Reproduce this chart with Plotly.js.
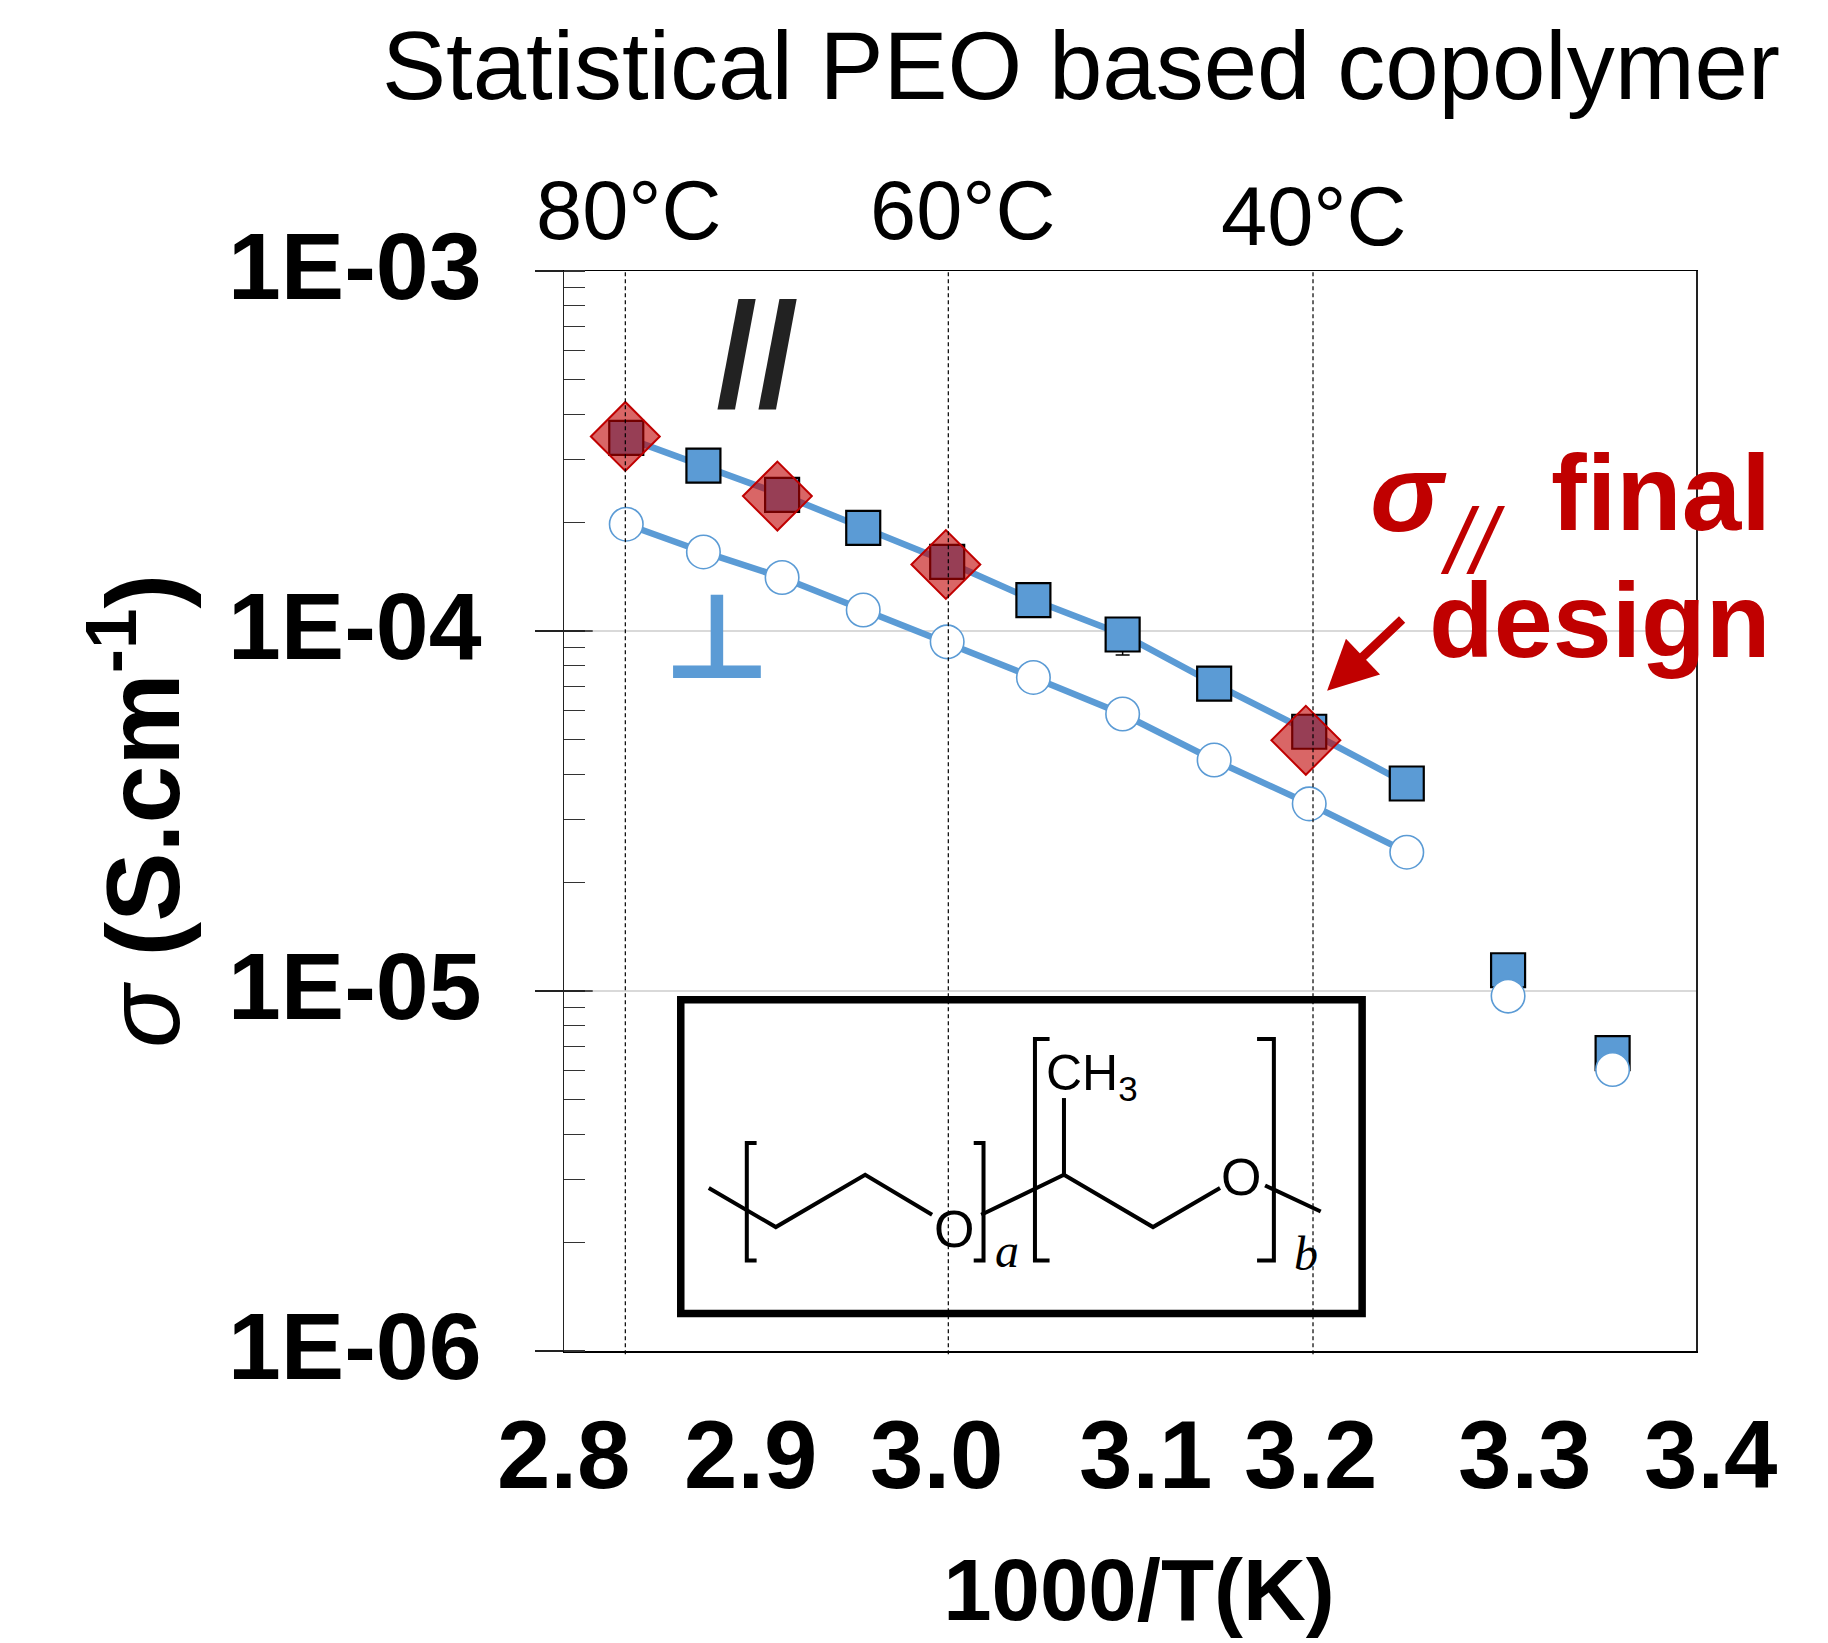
<!DOCTYPE html>
<html><head><meta charset="utf-8">
<script src="https://cdn.plot.ly/plotly-3.0.0.min.js"></script>
<style>html,body{margin:0;padding:0;background:#fff}</style></head>
<body><div id="chart" style="width:1828px;height:1643px"></div>
<script>
// ---- data ----
const inverseT      = [2.8330,2.8739,2.9156,2.9586,3.0031,3.0488,3.0961,3.1446,3.1950,3.2467,3.3004,3.3558];
const sigmaParallel = [3.44e-4,2.88e-4,2.39e-4,1.935e-4,1.557e-4,1.219e-4,9.78e-5,7.14e-5,5.25e-5,3.77e-5,1.142e-5,6.72e-6];
const sigmaPerp     = [1.98e-4,1.658e-4,1.408e-4,1.144e-4,9.33e-5,7.43e-5,5.88e-5,4.38e-5,3.31e-5,2.43e-5,9.68e-6,6.05e-6];
const parallelErrUp = [0,0,0,0,0,0,0,0,0,0,0,0];
const parallelErrDn = [0,0,0,0,0,0,1.2e-5,0,0,0,0,0];
const finalT        = [2.8325,2.9131,3.0024,3.1932];
const sigmaFinal    = [3.47e-4,2.37e-4,1.53e-4,4.97e-5];
const tempLineX     = [2.8325,3.0037,3.197];
const yTickVals     = [1e-6,1e-5,1e-4,1e-3];
const yTickText     = ['1E-06','1E-05','1E-04','1E-03'];
const xLabels       = ['2.8','2.9','3.0','3.1','3.2','3.3','3.4'];
const tempLabels    = ['80°C','60°C','40°C'];

// ---- page geometry ----
const W=1828,H=1643,L=564.3,R=1695.7,T=271.4,B=1351.2;
const fx=p=>(p-L)/(R-L), fy=p=>(B-p)/(B-T);
const BLUE='#5B9BD5',RED='#C00000',SANS='"Liberation Sans",Arial,sans-serif',SERIF='"Liberation Serif",serif';
const xLabelPx=[564,751,937,1145,1310,1524,1710];
const tempLabelPx=[629,963,1313.5], tempLabelBase=[239.5,239.5,246];

function txt(text,x,base,size,o={}){
  return {text,xref:'paper',yref:'paper',x:fx(x),y:fy(base+0.212*size+1),xanchor:o.xa||'center',yanchor:'bottom',
    showarrow:false,borderpad:0,font:{family:o.family||SANS,size,color:o.color||'#000',weight:o.weight||'normal',style:o.style||'normal'}};
}
const annotations=[
  ...xLabels.map((t,i)=>txt(t,xLabelPx[i],1488,96,{weight:'bold'})),
  ...tempLabels.map((t,i)=>txt(t,tempLabelPx[i],tempLabelBase[i],83)),
  txt('//',757,407,148,{weight:'bold',color:'#222'}),
  txt('⊥',717,681,118,{weight:'bold',color:BLUE,family:'"DejaVu Sans"'}),
  txt('σ',1408,531,110,{weight:'bold',style:'italic',color:RED}),
  txt('//',1473,573,92,{style:'italic',color:RED}),
  txt('final',1772,531,107,{xa:'right',weight:'bold',color:RED}),
  txt('design',1772,657,106,{xa:'right',weight:'bold',color:RED}),
  {xref:'paper',yref:'paper',axref:'pixel',ayref:'pixel',x:fx(1327),y:fy(691),ax:1405-1327,ay:617-691,text:' ',
    showarrow:true,arrowcolor:RED,arrowwidth:9,arrowhead:2,arrowsize:1.1,standoff:0},
  txt('O',953.7,1246.7,52),
  txt('O',1241,1195.5,52),
  txt('CH<sub>3</sub>',1045,1097.7,50,{xa:'left'}),
  txt('a',1007,1267,48,{family:SERIF,style:'italic'}),
  txt('b',1306,1270,48,{family:SERIF,style:'italic'})
];
const poly=(pts,w)=>({type:'path',xref:'paper',yref:'paper',layer:'above',
  path:'M'+pts.map(p=>fx(p[0])+','+fy(p[1])).join('L'),line:{color:'#000',width:w}});
const shapes=[
  ...tempLineX.map(x=>({type:'line',xref:'x',yref:'paper',layer:'above',x0:x,x1:x,y0:-0.003,y1:1,line:{color:'#000',width:1.2,dash:'4px,3px'}})),
  ...[1e-4,1e-5].map(v=>({type:'line',xref:'paper',yref:'y',layer:'above',x0:0,x1:fx(593),y0:v,y1:v,line:{color:'#222',width:1.5}})),
  {type:'rect',xref:'paper',yref:'paper',layer:'above',x0:fx(681),x1:fx(1362),y0:fy(1313.7),y1:fy(1000),line:{color:'#000',width:7.5}},
  poly([[709,1188.3],[776,1227.3],[865.3,1175],[932.2,1215]],4),
  poly([[981.3,1215],[1064,1175],[1153,1227.3],[1220,1188.3]],4),
  poly([[1265,1185.7],[1320.6,1211.7]],4),
  poly([[1064,1098.3],[1064,1175]],4),
  poly([[756.8,1143.3],[747,1143.3],[747,1260.7],[756.8,1260.7]],4),
  poly([[973.8,1143.3],[983.6,1143.3],[983.6,1260.7],[973.8,1260.7]],4),
  poly([[1049.6,1039.3],[1035,1039.3],[1035,1260.7],[1049.6,1260.7]],4),
  poly([[1257,1039.3],[1273.8,1039.3],[1273.8,1260.7],[1257,1260.7]],4)
];
const n=10;
const traces=[
 {x:inverseT.slice(0,n),y:sigmaParallel.slice(0,n),mode:'lines',line:{color:BLUE,width:6.5},showlegend:false},
 {x:inverseT.slice(0,n),y:sigmaPerp.slice(0,n),mode:'lines',line:{color:BLUE,width:6.5},showlegend:false},
 {x:inverseT,y:sigmaParallel,mode:'markers',name:'σ∥',showlegend:false,
  error_y:{type:'data',array:parallelErrUp,arrayminus:parallelErrDn,symmetric:false,color:'#000',thickness:1.5,width:7},
  marker:{symbol:'square',size:34,color:BLUE,line:{color:'#000',width:2.2}}},
 {x:inverseT,y:sigmaPerp,mode:'markers',name:'σ⊥',showlegend:false,
  marker:{symbol:'circle',size:33.5,color:'#fff',line:{color:BLUE,width:1.6}}},
 {x:finalT,y:sigmaFinal,mode:'markers',name:'σ∥ final design',showlegend:false,
  marker:{symbol:'diamond',size:53,color:'rgba(192,0,0,0.6)',line:{color:RED,width:2}}}
];
const layout={
 width:W,height:H,autosize:false,paper_bgcolor:'#fff',plot_bgcolor:'#fff',showlegend:false,
 margin:{l:L,r:W-R,t:T,b:H-B,pad:0},
 title:{text:'Statistical PEO based copolymer',font:{family:SANS,size:96,color:'#000'},xref:'container',yref:'container',x:1081/W,xanchor:'center',y:1-65/H,yanchor:'middle'},
 xaxis:{type:'linear',range:[2.8,3.4],showgrid:false,zeroline:false,showticklabels:false,ticks:'',showline:true,linecolor:'#000',linewidth:1.5,mirror:true,
   title:{text:'<span style="font-size:65px">\u00A0</span>1000/T(K)',font:{family:SANS,size:87,color:'#000',weight:'bold'},standoff:207}},
 yaxis:{type:'log',range:[-6,-3],tickmode:'array',tickvals:yTickVals,ticktext:yTickText,
   tickfont:{family:SANS,size:95,color:'#000',weight:'bold'},ticks:'outside',ticklen:28,tickwidth:1.5,tickcolor:'#222',
   ticklabelstandoff:34,ticklabelshift:-5,showgrid:true,gridcolor:'#D9D9D9',gridwidth:1.5,zeroline:false,
   showline:true,linecolor:'#222',linewidth:1.5,mirror:true,
   minor:{ticks:'inside',ticklen:21,tickwidth:1.2,tickcolor:'#333',dtick:'D1',showgrid:false},
   title:{text:'<span style="font-weight:normal;font-style:italic">σ</span> (S.cm<sup>-1</sup>)',font:{family:SANS,size:104,color:'#000',weight:'bold'},standoff:13}},
 annotations,shapes
};
Plotly.newPlot('chart',traces,layout,{displayModeBar:false,staticPlot:true});
</script></body></html>
